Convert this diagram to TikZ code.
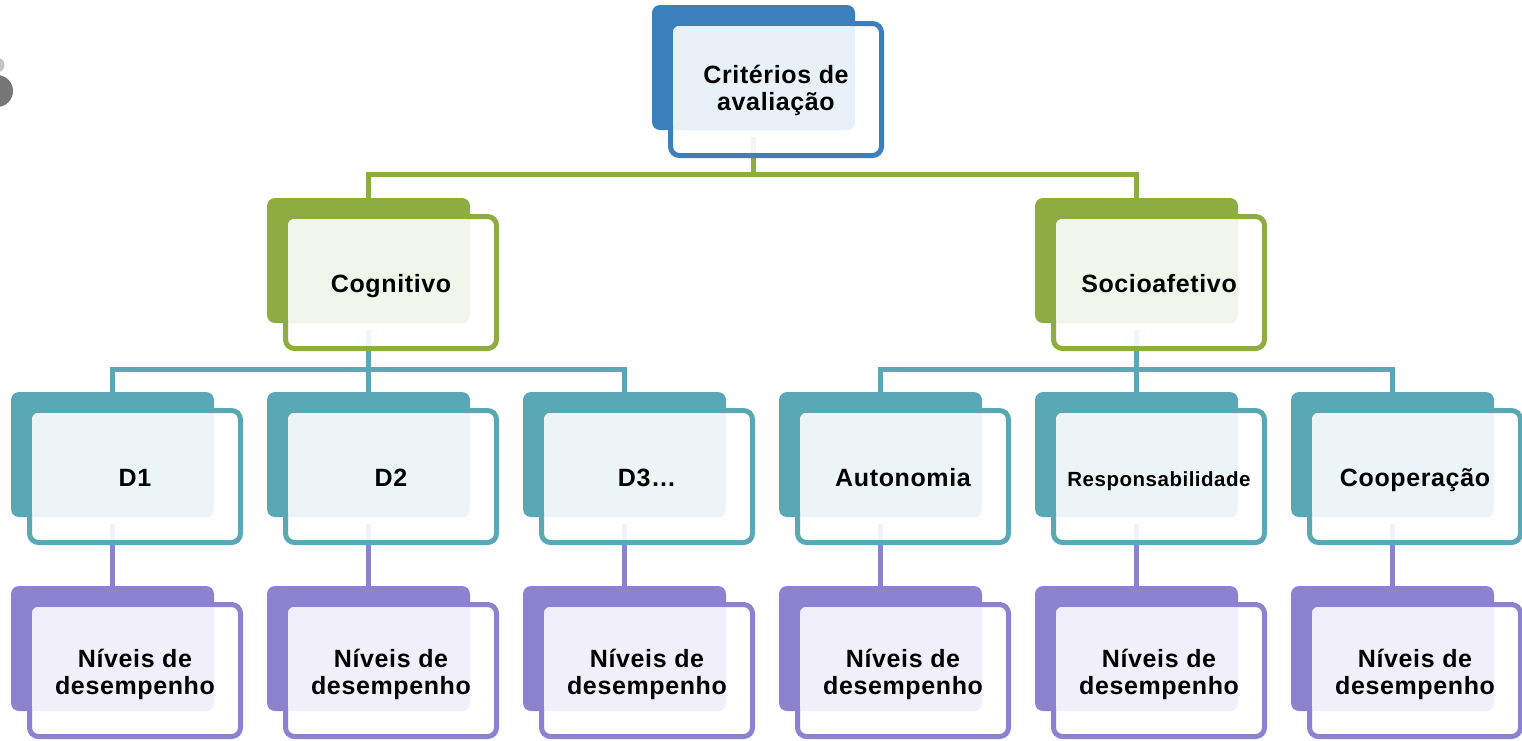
\documentclass[tikz,border=0pt]{standalone}
\usepackage{fontspec}
\setmainfont{Liberation Sans}[LetterSpace=2.5]
\usetikzlibrary{backgrounds}
\definecolor{blueD}{HTML}{3B80BD}
\definecolor{blueL}{HTML}{E8F0F8}
\definecolor{greenD}{HTML}{8DAC42}
\definecolor{greenL}{HTML}{F2F6EA}
\definecolor{tealD}{HTML}{5AA8B5}
\definecolor{tealL}{HTML}{EBF5F7}
\definecolor{purpD}{HTML}{8B83D1}
\definecolor{purpL}{HTML}{F1F0FA}
\definecolor{greyD}{HTML}{777777}
\definecolor{greyL}{HTML}{C4C4C4}
\tikzset{
  backbox/.style={rectangle, draw=none, minimum width=203pt, minimum height=125pt, inner sep=0pt, rounded corners=8pt},
  frontbox/.style={rectangle, fill=white, fill opacity=0.9, line width=5pt, minimum width=211pt, minimum height=132pt, inner sep=0pt, rounded corners=9pt},
  lblbase/.style={font=\bfseries\fontsize{25}{27}\selectfont, align=center, text=black, inner sep=0pt},
  lbl/.style={lblbase, text height=19pt, text depth=5pt, yshift=-2.5pt},
  lbltwo/.style={lblbase, yshift=-4pt},
  lbltop/.style={lblbase, yshift=-1pt},
  conn/.style={line width=5pt},
}
\newcommand{\tbox}[7][lbl]{%
  \node[backbox, fill=#5] (#2b) at (#3+101.5, #4+62.5) {};
  \node[frontbox, draw=#5] (#2f) at (#3+124, #4+84.5) {};
  \fill[#6, rounded corners=6pt] (#3+21,#4+21) rectangle (#3+202,#4+125);
  \node[#1] (#2) at (#2f.center) {#7};
}
\begin{document}
\begin{tikzpicture}[x=1pt, y=-1pt]
\useasboundingbox (0,0) rectangle (1522,740);
% grey blob at left edge
\fill[greyL] (-3,65) circle (7.5pt);
\fill[greyD] (-3,91) circle (16pt);
% boxes
\tbox[lbltop]{top}{652}{5}{blueD}{blueL}{Critérios de\\avaliação}
\tbox{cog}{267}{198}{greenD}{greenL}{Cognitivo}
\tbox{soc}{1035}{198}{greenD}{greenL}{Socioafetivo}
\tbox{da}{11}{392}{tealD}{tealL}{D1}
\tbox{db}{267}{392}{tealD}{tealL}{D2}
\tbox{dc}{523}{392}{tealD}{tealL}{D3…}
\tbox{aut}{779}{392}{tealD}{tealL}{Autonomia}
\tbox{res}{1035}{392}{tealD}{tealL}{\fontsize{20.5}{24}\selectfont Responsabilidade}
\tbox{coo}{1291}{392}{tealD}{tealL}{Cooperação}
\tbox[lbltwo]{na}{11}{586}{purpD}{purpL}{Níveis de\\desempenho}
\tbox[lbltwo]{nb}{267}{586}{purpD}{purpL}{Níveis de\\desempenho}
\tbox[lbltwo]{nc}{523}{586}{purpD}{purpL}{Níveis de\\desempenho}
\tbox[lbltwo]{nd}{779}{586}{purpD}{purpL}{Níveis de\\desempenho}
\tbox[lbltwo]{ne}{1035}{586}{purpD}{purpL}{Níveis de\\desempenho}
\tbox[lbltwo]{nf}{1291}{586}{purpD}{purpL}{Níveis de\\desempenho}
% connectors
\begin{scope}[on background layer]
  \coordinate (jg) at (topb.south |- 0,174);
  \coordinate (jtl) at (cogb.south |- 0,369);
  \coordinate (jtr) at (socb.south |- 0,369);
  \draw[conn, greenD] ([yshift=-7pt]topb.south) -- (jg);
  \draw[conn, greenD] (cogb.north) |- (jg) -| (socb.north);
  \draw[conn, tealD] ([yshift=-7pt]cogb.south) -- (jtl);
  \draw[conn, tealD] (dab.north) |- (jtl) -| (dcb.north);
  \draw[conn, tealD] (jtl) -- (dbb.north);
  \draw[conn, tealD] ([yshift=-7pt]socb.south) -- (jtr);
  \draw[conn, tealD] (autb.north) |- (jtr) -| (coob.north);
  \draw[conn, tealD] (jtr) -- (resb.north);
  \draw[conn, purpD] ([yshift=-7pt]dab.south) -- (nab.north);
  \draw[conn, purpD] ([yshift=-7pt]dbb.south) -- (nbb.north);
  \draw[conn, purpD] ([yshift=-7pt]dcb.south) -- (ncb.north);
  \draw[conn, purpD] ([yshift=-7pt]autb.south) -- (ndb.north);
  \draw[conn, purpD] ([yshift=-7pt]resb.south) -- (neb.north);
  \draw[conn, purpD] ([yshift=-7pt]coob.south) -- (nfb.north);
\end{scope}
\end{tikzpicture}
\end{document}
